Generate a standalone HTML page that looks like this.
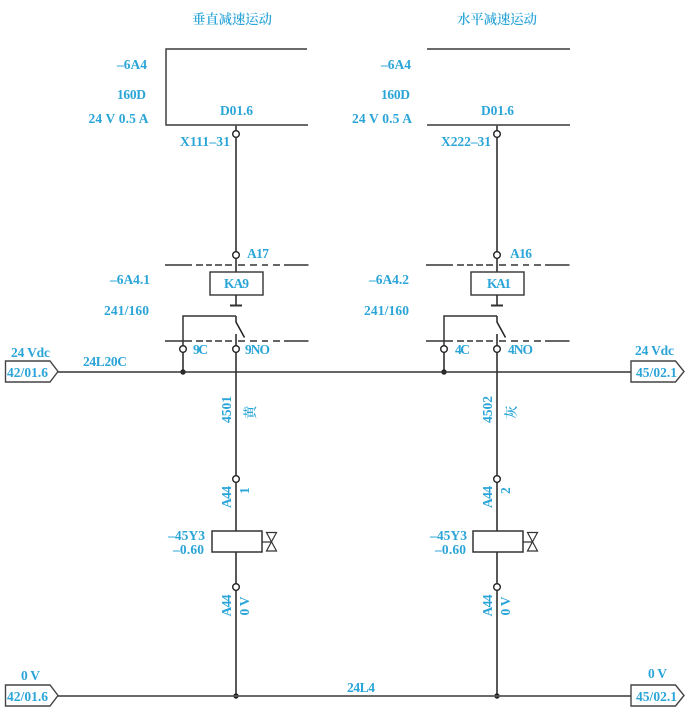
<!DOCTYPE html>
<html><head><meta charset="utf-8">
<style>
html,body{margin:0;padding:0;background:#fff;width:696px;height:719px;overflow:hidden}
svg{display:block}
text{font-family:"Liberation Serif","Noto Serif CJK SC",serif;font-weight:bold;font-size:13.5px;fill:#2ba5d8;stroke:none}
.c{font-family:"Liberation Serif","Noto Serif CJK SC",serif;font-weight:600;font-size:13.4px}
.r{font-size:14px}
.l{fill:none;stroke:#222;stroke-width:1.5}
.g{fill:none;stroke:#555;stroke-width:1.7}
.o{fill:#fff;stroke:#222;stroke-width:1.4}
.d{fill:#222;stroke:none}
</style></head><body>
<svg width="696" height="719" viewBox="0 0 696 719" xmlns="http://www.w3.org/2000/svg">
<defs>
<g id="col">
  <path class="l" d="M0 125V131M0 137V252M0 258V272M0 295V305M0 316V322L8.500 337.500M0 334V346M0 352V531M0 552V584M0 590V696" />
  <path class="g" d="M-6 305.500H6" style="stroke:#333;stroke-width:2"/>
  <path class="l" style="stroke:#333" d="M-53 346V316H0"/>
  <path class="l" d="M-53 352V372"/>
  <circle class="o" cx="0" cy="134" r="3.300"/>
  <circle class="o" cx="0" cy="255" r="3.300"/>
  <circle class="o" cx="-53" cy="349" r="3.300"/>
  <circle class="o" cx="0" cy="349" r="3.300"/>
  <circle class="o" cx="0" cy="479" r="3.300"/>
  <circle class="o" cx="0" cy="587" r="3.300"/>
  <circle class="d" cx="-53" cy="372" r="2.700"/>
  <circle class="d" cx="0" cy="696" r="2.700"/>
  <path class="l" style="stroke:#333" d="M-71 265H-44M-40 265H-33M-30 265H-24M-21 265H-14M-11 265H-4M2 265H9M14 265H21M26 265H32M37 265H44M48 265H72.500"/>
  <path class="l" style="stroke:#333" d="M-71 341H-44M-40 341H-33M-30 341H-24M-21 341H-14M-11 341H-4M2 341H9M14 341H21M26 341H32M37 341H44M48 341H72.500"/>
</g>
</defs>
<use href="#col" x="236"/>
<use href="#col" x="497"/>

<path class="g" d="M166 49H307M166 48.200V125.800M166 125H308"/>
<path class="g" d="M427 49H570M427 125H570"/>
<path class="l" style="stroke:#333" d="M58 372H631"/>
<path class="g" d="M58 696H631"/>

<rect x="210" y="272" width="53" height="23" fill="#fff" stroke="#333" stroke-width="1.400"/>
<rect x="471" y="272" width="53" height="23" fill="#fff" stroke="#333" stroke-width="1.400"/>
<rect x="212" y="531" width="50" height="21" fill="#fff" stroke="#333" stroke-width="1.500"/>
<rect x="473" y="531" width="50" height="21" fill="#fff" stroke="#333" stroke-width="1.500"/>
<path class="l" style="stroke-width:1.200;stroke:#333" d="M262 542H271.500M266.500 532.500H276.500L266.500 551H276.500Z"/>
<path class="l" style="stroke-width:1.200;stroke:#333" d="M523 542H532.500M527.500 532.500H537.500L527.500 551H537.500Z"/>

<path fill="#fff" stroke="#444" stroke-width="1.400" d="M5.500 361H50L58 371.500L50 382H5.500Z"/>
<path fill="#fff" stroke="#444" stroke-width="1.400" d="M5.500 685H50L58 695.500L50 706H5.500Z"/>
<path fill="#fff" stroke="#444" stroke-width="1.400" d="M631 361H675.500L684 371.500L675.500 382H631Z"/>
<path fill="#fff" stroke="#444" stroke-width="1.400" d="M631 685H675.500L684 695.500L675.500 706H631Z"/>

<text class="c" x="192" y="24" textLength="80">垂直减速运动</text>
<text class="c" x="457" y="24" textLength="80">水平减速运动</text>

<text x="117" y="69" textLength="30">–6A4</text>
<text x="117" y="99" textLength="29">160D</text>
<text x="88.500" y="123" textLength="60">24 V 0.5 A</text>
<text x="220" y="115" textLength="33">D01.6</text>
<text x="180" y="146" textLength="50">X111–31</text>
<text x="381" y="69" textLength="30">–6A4</text>
<text x="381" y="99" textLength="29">160D</text>
<text x="352" y="123" textLength="60">24 V 0.5 A</text>
<text x="481" y="115" textLength="33">D01.6</text>
<text x="441" y="146" textLength="50">X222–31</text>

<text x="247" y="258" textLength="22">A17</text>
<text x="510" y="258" textLength="22">A16</text>
<text x="224" y="288" textLength="25">KA9</text>
<text x="487" y="288" textLength="24">KA1</text>
<text x="110" y="284" textLength="40">–6A4.1</text>
<text x="369" y="284" textLength="40">–6A4.2</text>
<text x="104" y="315" textLength="45">241/160</text>
<text x="364" y="315" textLength="45">241/160</text>
<text x="193" y="354" textLength="15">9C</text>
<text x="245" y="354" textLength="25">9NO</text>
<text x="455" y="354" textLength="15">4C</text>
<text x="508" y="354" textLength="25">4NO</text>

<text x="11" y="357" textLength="39">24 Vdc</text>
<text x="7" y="377" textLength="41">42/01.6</text>
<text x="83" y="366" textLength="44">24L20C</text>
<text x="635" y="355" textLength="39">24 Vdc</text>
<text x="636" y="377" textLength="41">45/02.1</text>
<text x="21" y="680" textLength="19">0 V</text>
<text x="7" y="701" textLength="41">42/01.6</text>
<text x="648" y="678" textLength="19">0 V</text>
<text x="636" y="701" textLength="41">45/02.1</text>
<text x="347" y="692" textLength="28">24L4</text>

<text x="168" y="540" textLength="37">–45Y3</text>
<text x="173" y="554" textLength="31">–0.60</text>
<text x="430" y="540" textLength="37">–45Y3</text>
<text x="435" y="554" textLength="31">–0.60</text>

<text transform="translate(231 423) rotate(-90)" textLength="27">4501</text>
<text transform="translate(492 423) rotate(-90)" textLength="27">4502</text>
<text class="c" transform="translate(255 419) rotate(-90)">黄</text>
<text class="c" transform="translate(516 419) rotate(-90)">灰</text>
<text transform="translate(231 508) rotate(-90)" textLength="22">A44</text>
<text transform="translate(492 508) rotate(-90)" textLength="22">A44</text>
<text transform="translate(249 494) rotate(-90)">1</text>
<text transform="translate(510 494) rotate(-90)">2</text>
<text transform="translate(231 616.500) rotate(-90)" textLength="22">A44</text>
<text transform="translate(492 616.500) rotate(-90)" textLength="22">A44</text>
<text transform="translate(249 615.500) rotate(-90)" textLength="19">0 V</text>
<text transform="translate(510 615.500) rotate(-90)" textLength="19">0 V</text>
</svg>
</body></html>
